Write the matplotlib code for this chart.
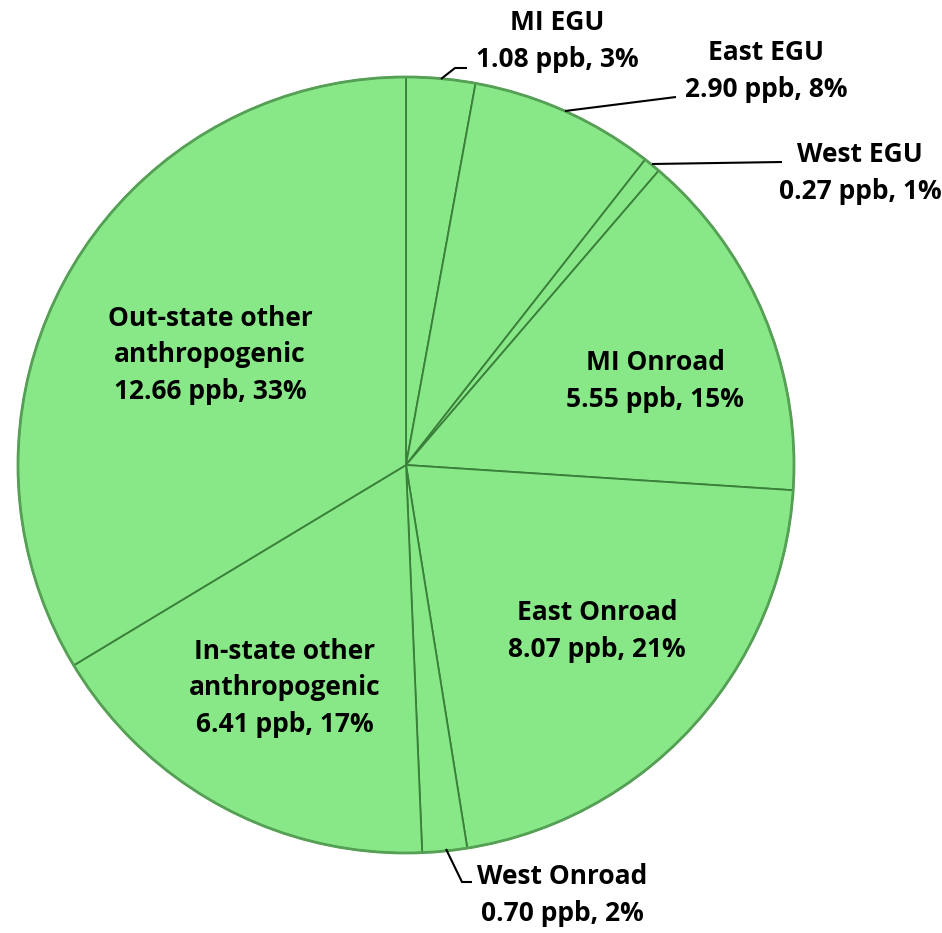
import matplotlib
matplotlib.use("Agg")
import matplotlib.pyplot as plt
import numpy as np

categories = ["MI EGU", "East EGU", "West EGU", "MI Onroad", "East Onroad",
              "West Onroad", "In-state other\nanthropogenic", "Out-state other\nanthropogenic"]
values = [1.08, 2.90, 0.27, 5.55, 8.07, 0.70, 6.41, 12.66]
percents = [3, 8, 1, 15, 21, 2, 17, 33]

W, H = 942, 933
CX, CY, R = 406, 465, 388

fig = plt.figure(figsize=(W / 100, H / 100), dpi=100)
ax = fig.add_axes([0, 0, 1, 1])

def px(x, y):
    return ((x - CX) / R, (CY - y) / R)

face = "#88E888"
wedges, _ = ax.pie(values, startangle=90, counterclock=False, radius=1.0,
                   colors=[face] * len(values),
                   wedgeprops=dict(edgecolor="#3a7f3a", linewidth=1.3))
circ = plt.Circle((0, 0), 1.0, fill=False, edgecolor="#55a055", linewidth=2.0)
ax.add_patch(circ)

ax.set_xlim(-CX / R, (W - CX) / R)
ax.set_ylim(-(H - CY) / R, CY / R)
ax.set_aspect("equal")
ax.axis("off")

font = dict(family=["Open Sans", "DejaVu Sans"], fontweight="bold", fontsize=19, color="black")

def lab(i):
    return f"{categories[i]}\n{values[i]:.2f} ppb, {percents[i]}%"

# inside labels (pixel positions of text centers)
inside = {3: (655, 381), 4: (597, 631), 6: (285, 688), 7: (210, 355)}
for i, (x, y) in inside.items():
    ax.text(*px(x, y), lab(i), ha="center", va="center", linespacing=1.45, **font)

# outside labels with leader lines
outside = {
    0: dict(text=(557, 41), line=[(441, 79), (455, 68), (467, 68)]),
    1: dict(text=(766, 71), line=[(565, 111), (676, 97)]),
    2: dict(text=(860, 173), line=[(652, 164), (782, 162)]),
    5: dict(text=(562, 895), line=[(446, 849), (462, 882), (472, 882)]),
}
for i, d in outside.items():
    ax.text(*px(*d["text"]), lab(i), ha="center", va="center", linespacing=1.45, **font)
    xs, ys = zip(*[px(x, y) for x, y in d["line"]])
    ax.plot(xs, ys, color="black", linewidth=1.5, solid_capstyle="butt")

fig.savefig("out.png", dpi=100)
